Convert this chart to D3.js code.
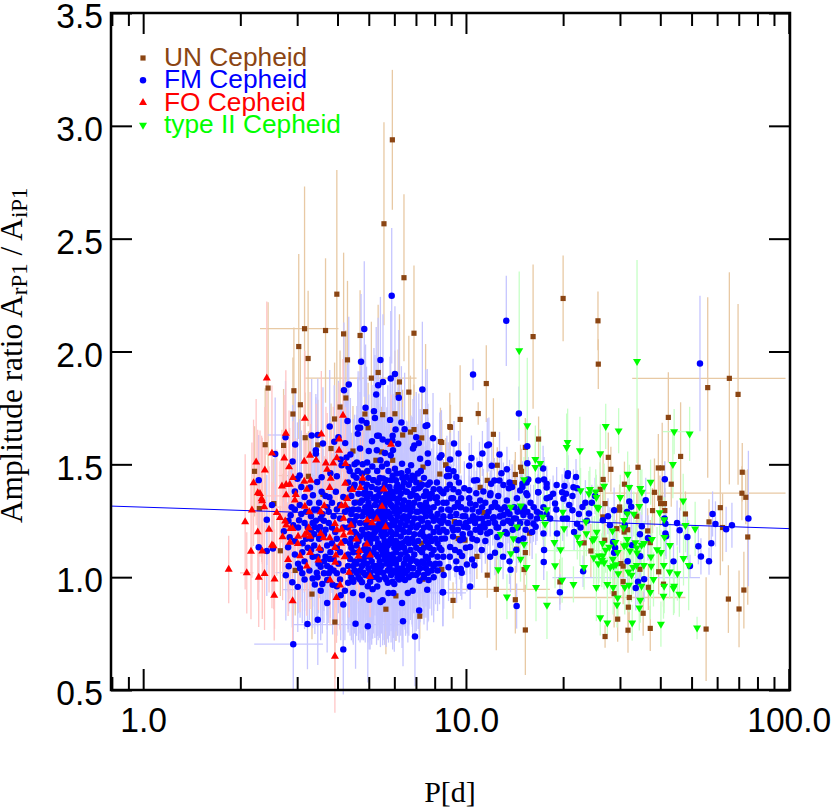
<!DOCTYPE html>
<html>
<head>
<meta charset="utf-8">
<script src="https://cdn.jsdelivr.net/npm/d3@7"></script>
<style>
  body { margin: 0; background: #fff; }
  .axis path, .axis line { stroke: #000; stroke-width: 2px; }
  .axis text { font-family: "Liberation Sans", sans-serif; font-size: 35px; fill: #000; }
</style>
</head>
<body>
<div class="canvas"></div>
<script>
const width = 831;
const height = 808;

const xDomain = [0.795, 100.9];
const yDomain = [0.5, 3.5];
const xMajorTicks = [1, 10, 100];
const xMinorTicks = [0.8, 0.9, 2, 3, 4, 5, 6, 7, 8, 9, 20, 30, 40, 50, 60, 70, 80, 90];
const xTickLabels = ["1.0", "10.0", "100.0"];
const yTicks = [0.5, 1.0, 1.5, 2.0, 2.5, 3.0, 3.5];
const yTickLabels = ["0.5", "1.0", "1.5", "2.0", "2.5", "3.0", "3.5"];

// fitted line, period then ratio
const fitPeriods = [0.795, 100.9];
const fitRatios = [1.315, 1.215];

// every row is [log10 P, amplitude ratio, ratio error].
// the crowded middle of the FM cloud cannot be separated so those rows are estimates.
const unRows = [
  [.772,2.938,.31],[.746,2.566,.45],[.600,2.254,.55],[.808,2.327,.37],[1.301,2.235,.19],[1.409,2.136,.13],[1.410,1.944,.11],[1.208,2.066,.32],
  [.500,2.101,.63],[.565,2.093,.32],[.621,2.078,.36],[.672,2.071,.2],[.839,2.081,.3],[.482,2.022,.41],[.511,1.969,.3],[.633,1.963,.35],
  [.728,1.907,.3],[.707,1.882,.25],[.794,1.865,.3],[.823,1.820,.25],[.790,1.809,.2],[.387,1.838,.38],[.467,1.826,.28],[.628,1.794,.3],
  [.487,1.764,.25],[.610,1.754,.25],[.464,1.723,.25],[.687,1.723,.3],[.742,1.720,.25],[.780,1.724,.28],[.593,1.701,.25],[.875,1.733,.3],
  [.950,1.667,.15],[.697,1.662,.2],[.839,1.654,.2],[.828,1.643,.25],[.804,1.630,.2],[.502,1.618,.2],[.378,1.587,.25],[.435,1.584,.25],
  [.541,1.586,.2],[.863,1.617,.2],[.921,1.601,.15],[.345,1.469,.2],[.582,1.570,.2],[.650,1.559,.2],[.738,1.555,.2],[.721,1.518,.2],
  [.773,1.518,.2],[.867,1.488,.15],[.938,1.497,.12],[.692,1.465,.2],[.512,1.447,.2],[.919,1.457,.12],[.857,1.418,.15],[1.063,1.858,.17],
  [1.038,1.725,.05],[.982,1.699,.24],[.952,1.664,.1],[1.085,1.633,.16],[1.225,1.612,.1],[1.184,1.575,.13],[1.097,1.496,.08],[1.169,1.487,.1],
  [1.153,1.455,.1],[1.172,1.469,.1],[1.150,1.419,.1],[1.066,1.429,.1],[1.044,1.398,.1],[.937,1.497,.1],[.925,1.597,.1],[1.441,1.531,.11],
  [1.449,1.478,.1],[1.425,1.433,.12],[1.416,1.389,.12],[1.491,1.412,.1],[1.533,1.487,.26],[1.596,1.484,.15],[1.608,1.484,.2],[1.636,1.412,.1],
  [1.584,1.376,.15],[1.627,1.708,.2],[1.665,1.535,.24],[1.749,1.840,.4],[1.816,1.881,.47],[1.843,1.81,.4],[1.856,1.465,.13],[1.855,1.372,.12],
  [1.867,1.354,.12],[1.601,1.35,.1],[1.615,1.326,.1],[1.603,1.326,.1],[1.788,1.308,.3],[1.680,1.28,.1],[1.753,1.245,.1],[1.795,1.22,.15],
  [1.873,1.178,.3],[1.616,1.295,.1],[1.578,1.295,.1],[1.529,1.27,.1],[1.476,1.311,.1],[1.476,1.297,.1],[1.431,1.326,.1],[1.424,1.267,.1],
  [1.563,1.205,.1],[1.571,1.153,.1],[1.467,1.215,.1],[1.49,1.2,.1],[1.501,1.21,.1],[1.43,1.164,.1],[1.387,1.116,.12],[1.366,1.152,.1],
  [1.539,1.035,.1],[1.597,1.024,.1],[1.48,1.06,.1],[1.487,1.049,.1],[1.487,.98,.1],[1.565,.955,.1],[1.612,.969,.1],[1.291,.979,.1],
  [1.18,1.034,.1],[1.184,1.109,.1],[1.157,1.124,.1],[1.197,1.195,.1],[1.066,1.009,.1],[1.034,1.092,.1],[.997,1.164,.1],[.976,1.171,.1],
  [.964,1.246,.1],[1.055,1.286,.1],[.925,1.034,.1],[1.094,.946,.27],[.96,.897,.08],[1.153,.9,.15],[1.184,.766,.2],[1.431,.737,.05],
  [1.47,.814,.1],[1.502,.765,.1],[1.571,.773,.1],[1.549,.84,.1],[1.503,.867,.12],[1.506,.91,.1],[1.459,.927,.15],[1.744,.77,.23],
  [1.813,.903,.15],[1.846,.859,.17],[1.861,.943,.17],[.36,1.304,.2],[.425,1.117,.2],[.471,1.03,.2],[.523,.925,.2],[.594,.801,.25],
  [.752,.858,.2],[.783,.917,.2],[.857,.827,.1],[.924,1.033,.1],[.677,1.021,.15],[.866,.991,.1],[.405,1.326,.2],[.557,1.367,.2],
  [.665,1.333,.2],[.696,1.363,.2],[.847,1.354,.15],[.872,1.319,.15],[.862,1.15,.15]
];
const unPeriodBars = [[.362,.605,2.101],[.502,.847,1.882],[1.515,1.99,1.881],[1.42,1.99,1.372],[.945,1.26,.946],[1.22,1.68,.91],[.42,.56,1.45]];

const fmRows = [
  // upper fringe
  [.77,2.247,.3],[.685,2.1,.3],[.735,1.962,.28],[.675,1.955,.3],[.78,1.9,.3],[.767,1.88,.3],[.743,1.865,.3],[.728,1.85,.3],[.637,1.854,.3],[.622,1.828,.3],
  [.722,1.809,.3],[.792,1.795,.3],[.865,1.832,.3],[.689,1.751,.28],[.715,1.735,.28],[.718,1.705,.28],[.765,1.697,.28],[.758,1.6,.25],[.8,1.685,.25],[.633,1.692,.25],
  [.677,1.694,.28],[.692,1.683,.25],[.578,1.668,.25],[.666,1.662,.25],[.672,1.662,.25],[.665,1.635,.25],[.782,1.654,.25],[.81,1.656,.25],[.88,1.673,.25],[.875,1.67,.25],
  [.725,1.627,.25],[.73,1.627,.25],[.742,1.61,.25],[.773,1.627,.25],[.772,1.606,.25],[.846,1.62,.2],[.898,1.616,.2],[.709,1.602,.25],[.592,1.6,.25],[.605,1.62,.25],
  [.626,1.594,.25],[.557,1.592,.25],[.541,1.63,.25],[.522,1.628,.25],[.441,1.62,.25],[.471,1.588,.25],[.535,1.562,.25],[.535,1.547,.25],[.409,1.546,.25],[.463,1.513,.25],
  [.642,1.544,.25],[.63,1.53,.25],[.612,1.521,.25],[.672,1.57,.25],[.699,1.559,.25],[.724,1.562,.25],[.749,1.55,.25],[.767,1.54,.25],[.79,1.591,.25],[.774,1.563,.25],
  [.836,1.57,.22],[.854,1.594,.22],[.84,1.583,.22],[.882,1.548,.22],[.858,1.525,.22],[.924,1.54,.2],[.919,1.53,.2],[.735,1.518,.25],[.755,1.503,.25],[.802,1.503,.25],
  [.83,1.496,.22],[.882,1.506,.2],[.662,1.508,.25],[.694,1.508,.25],[.636,1.488,.25],[.615,1.496,.25],[.6,1.447,.25],[.58,1.46,.25],[.652,1.451,.25],[.678,1.459,.25],
  [.714,1.43,.25],[.743,1.437,.25],[.785,1.459,.25],[.816,1.444,.25],[.851,1.459,.22],[.888,1.42,.2],[.91,1.42,.2],[.941,1.447,.18],[.485,1.451,.25],[.478,1.436,.25],
  [.539,1.422,.25],[.553,1.443,.25],[.517,1.397,.25],[.49,1.4,.25],[.526,1.363,.25],[.5,1.355,.25],[.553,1.378,.25],[.577,1.354,.25],[.597,1.378,.25],[.62,1.355,.25],
  [.652,1.398,.25],[.693,1.37,.25],[.718,1.354,.25],[.76,1.363,.25],[.785,1.399,.25],[.817,1.378,.25],[.853,1.394,.22],[.878,1.363,.22],[.91,1.354,.2],[.358,1.43,.2],
  [.399,1.32,.2],
  [.64,1.47,.22],[.655,1.5,.22],[.665,1.47,.22],[.68,1.5,.22],[.695,1.47,.22],[.71,1.49,.22],[.725,1.47,.22],[.74,1.49,.22],[.76,1.47,.22],[.78,1.48,.22],
  [.8,1.46,.22],[.82,1.47,.22],[.84,1.44,.22],[.86,1.47,.22],[.87,1.44,.22],
  // left side and lower fringe
  [.462,.977,.2],[.479,.957,.2],[.442,1.008,.2],[.451,1.048,.2],[.436,1.203,.2],[.454,1.177,.2],[.449,1.133,.2],[.383,1.254,.2],[.358,1.133,.2],[.383,1.116,.2],
  [.402,1.127,.2],[.457,1.274,.2],[.46,1.31,.2],[.483,1.252,.2],[.465,1.23,.2],[.494,1.15,.22],[.493,1.11,.22],[.486,1.04,.22],[.493,1.017,.22],[.525,.994,.22],
  [.532,.968,.22],[.57,.987,.22],[.538,1.02,.22],[.56,1.017,.22],[.575,1.017,.22],[.6,1.017,.22],[.525,1.09,.22],[.543,1.06,.22],[.578,1.08,.22],[.55,1.046,.22],
  [.532,1.222,.22],[.548,1.222,.22],[.505,1.17,.22],[.52,1.17,.22],[.57,.886,.22],[.62,.879,.2],[.509,.792,.2],[.541,.811,.2],[.658,.794,.2],[.696,.783,.25],
  [.805,.805,.2],[.842,.737,.22],[.465,.703,.2],[.62,.68,.2],[.678,.92,.2],[.612,.92,.2],[.735,.89,.2],[.742,.898,.2],[.802,.886,.2],[.855,.852,.18],
  [.835,.94,.2],[.88,.944,.18],[.928,.933,.15],[.775,.93,.2],[.711,.947,.22],[.696,.96,.25],[.725,.959,.22],[.587,.966,.22],[.635,.975,.22],[.651,.987,.22],
  [.678,.978,.25],[.731,.99,.25],[.758,.975,.25],[.788,1.0,.25],[.811,.987,.22],[.833,1.01,.22],[.856,.984,.2],[.884,.987,.18],[.837,1.04,.2],[.87,1.0,.18],
  [.47,1.3,.2],[.485,1.32,.2],[.505,1.29,.22],[.52,1.27,.22],[.53,1.3,.22],[.555,1.28,.22],[.57,1.31,.22],[.51,1.22,.22],[.56,1.19,.22],[.575,1.24,.22],
  [.53,1.14,.22],[.55,1.12,.22],[.585,1.15,.22],[.58,1.11,.22],[.595,1.2,.22],[.61,1.26,.22],[.605,1.06,.22],[.62,1.03,.22],[.61,1.11,.22],[.625,1.16,.22],
  [.47,1.38,.22],[.49,1.28,.22],[.5,1.24,.22],[.515,1.33,.22],[.52,1.21,.22],[.535,1.25,.22],[.545,1.33,.22],[.56,1.25,.22],[.565,1.36,.22],[.575,1.29,.22],
  [.585,1.33,.22],[.59,1.27,.22],[.6,1.3,.22],[.61,1.32,.22],[.62,1.22,.22],[.625,1.29,.22],[.6,1.17,.22],[.59,1.08,.22],[.57,1.14,.22],[.565,1.09,.22],
  [.545,1.17,.22],[.53,1.19,.22],[.51,1.13,.22],[.5,1.07,.22],[.515,1.03,.22],[.54,1.0,.22],[.555,.97,.22],[.59,1.03,.22],[.57,1.05,.22],[.61,.99,.22],[.625,.94,.22],
  [.54,1.3,.22],[.525,1.24,.22],[.55,1.26,.22],[.545,1.21,.22],[.585,1.22,.22],[.6,1.13,.22],[.565,1.21,.22],[.52,1.12,.22],[.54,1.09,.22],[.56,1.07,.22],
  [.58,1.04,.22],[.47,1.16,.22],[.48,1.22,.22],[.45,1.25,.22],[.47,1.1,.22],[.48,1.06,.22],[.5,.99,.22],[.55,.94,.22],[.6,.96,.22],[.65,.93,.22],[.7,.9,.22],[.76,.93,.22],[.82,.93,.22],
  // crowded core, by columns of period
  [.635,1.42,.28],[.635,1.3,.28],[.635,1.22,.28],[.635,1.1,.28],[.635,1.05,.28],
  [.641,1.39,.28],[.641,1.25,.28],[.641,1.15,.28],[.641,1.08,.28],[.641,1.02,.28],
  [.645,1.36,.28],[.645,1.28,.28],[.645,1.17,.28],[.645,1.13,.28],[.645,1.0,.28],
  [.651,1.3,.28],[.651,1.23,.28],[.651,1.11,.28],[.651,1.05,.28],[.651,.98,.28],
  [.655,1.41,.28],[.655,1.33,.28],[.655,1.25,.28],[.655,1.2,.28],[.655,1.07,.28],[.655,1.03,.28],
  [.661,1.44,.28],[.661,1.27,.28],[.661,1.19,.28],[.661,1.14,.28],[.661,1.06,.28],[.661,1.02,.28],
  [.667,1.37,.28],[.667,1.3,.28],[.667,1.16,.28],[.667,1.11,.28],[.667,1.0,.28],
  [.672,1.33,.28],[.672,1.24,.28],[.672,1.18,.28],[.672,1.08,.28],[.672,1.03,.28],[.672,.99,.28],
  [.678,1.42,.28],[.678,1.34,.28],[.678,1.27,.28],[.678,1.21,.28],[.678,1.05,.28],
  [.683,1.37,.3],[.683,1.29,.3],[.683,1.19,.3],[.683,1.12,.3],[.683,1.07,.3],[.683,1.02,.3],
  [.688,1.39,.3],[.688,1.31,.3],[.688,1.24,.3],[.688,1.14,.3],[.688,1.09,.3],[.688,1.01,.3],
  [.693,1.41,.3],[.693,1.35,.3],[.693,1.29,.3],[.693,1.22,.3],[.693,1.17,.3],[.693,1.11,.3],[.693,1.06,.3],
  [.698,1.44,.3],[.698,1.33,.3],[.698,1.27,.3],[.698,1.19,.3],[.698,1.12,.3],[.698,1.04,.3],
  [.703,1.37,.3],[.703,1.31,.3],[.703,1.24,.3],[.703,1.15,.3],[.703,1.09,.3],[.703,1.02,.3],[.703,.98,.3],
  [.708,1.4,.3],[.708,1.29,.3],[.708,1.22,.3],[.708,1.17,.3],[.708,1.07,.3],[.708,1.0,.3],
  [.713,1.43,.3],[.713,1.35,.3],[.713,1.27,.3],[.713,1.19,.3],[.713,1.11,.3],[.713,1.05,.3],
  [.718,1.32,.3],[.718,1.26,.3],[.718,1.2,.3],[.718,1.13,.3],[.718,1.03,.3],
  [.723,1.39,.3],[.723,1.34,.3],[.723,1.28,.3],[.723,1.22,.3],[.723,1.17,.3],[.723,1.1,.3],[.723,1.05,.3],[.723,1.0,.3],
  [.728,1.42,.3],[.728,1.36,.3],[.728,1.29,.3],[.728,1.23,.3],[.728,1.15,.3],[.728,1.09,.3],[.728,1.02,.3],
  [.733,1.44,.3],[.733,1.38,.3],[.733,1.31,.3],[.733,1.25,.3],[.733,1.21,.3],[.733,1.13,.3],[.733,1.07,.3],[.733,1.03,.3],
  [.738,1.39,.3],[.738,1.33,.3],[.738,1.27,.3],[.738,1.19,.3],[.738,1.12,.3],[.738,1.05,.3],
  [.743,1.35,.3],[.743,1.29,.3],[.743,1.23,.3],[.743,1.18,.3],[.743,1.14,.3],[.743,1.1,.3],[.743,1.02,.3],
  [.748,1.41,.3],[.748,1.31,.3],[.748,1.25,.3],[.748,1.21,.3],[.748,1.16,.3],[.748,1.08,.3],[.748,1.0,.3],
  [.753,1.43,.3],[.753,1.37,.3],[.753,1.33,.3],[.753,1.27,.3],[.753,1.19,.3],[.753,1.12,.3],[.753,1.06,.3],[.753,.99,.3],
  [.758,1.35,.3],[.758,1.29,.3],[.758,1.23,.3],[.758,1.14,.3],[.758,1.1,.3],[.758,1.03,.3],
  [.763,1.4,.3],[.763,1.34,.3],[.763,1.28,.3],[.763,1.22,.3],[.763,1.16,.3],[.763,1.08,.3],[.763,1.04,.3],
  [.768,1.43,.3],[.768,1.38,.3],[.768,1.32,.3],[.768,1.26,.3],[.768,1.2,.3],[.768,1.17,.3],[.768,1.06,.3],[.768,1.01,.3],
  [.773,1.45,.3],[.773,1.36,.3],[.773,1.31,.3],[.773,1.24,.3],[.773,1.19,.3],[.773,1.15,.3],[.773,1.1,.3],[.773,1.03,.3],[.773,.98,.3],
  [.778,1.35,.3],[.778,1.29,.3],[.778,1.23,.3],[.778,1.13,.3],[.778,1.08,.3],[.778,.97,.3],
  [.783,1.43,.3],[.783,1.38,.3],[.783,1.31,.3],[.783,1.25,.3],[.783,1.19,.3],[.783,1.16,.3],[.783,1.11,.3],[.783,1.06,.3],[.783,1.02,.3],
  [.788,1.41,.3],[.788,1.33,.3],[.788,1.27,.3],[.788,1.21,.3],[.788,1.15,.3],[.788,1.04,.3],
  [.793,1.39,.28],[.793,1.35,.28],[.793,1.29,.28],[.793,1.22,.28],[.793,1.13,.28],[.793,1.08,.28],[.793,.99,.28],
  [.798,1.37,.28],[.798,1.3,.28],[.798,1.24,.28],[.798,1.18,.28],[.798,1.1,.28],[.798,1.02,.28],
  [.803,1.44,.28],[.803,1.4,.28],[.803,1.32,.28],[.803,1.26,.28],[.803,1.21,.28],[.803,1.15,.28],[.803,1.04,.28],[.803,1.0,.28],
  [.808,1.42,.28],[.808,1.34,.28],[.808,1.27,.28],[.808,1.2,.28],[.808,1.13,.28],[.808,1.06,.28],
  [.813,1.38,.28],[.813,1.3,.28],[.813,1.23,.28],[.813,1.16,.28],[.813,1.11,.28],[.813,1.08,.28],[.813,1.02,.28],
  [.818,1.31,.28],[.818,1.25,.28],[.818,1.17,.28],[.818,1.09,.28],[.818,1.03,.28],
  [.823,1.41,.26],[.823,1.33,.26],[.823,1.27,.26],[.823,1.2,.26],[.823,1.15,.26],[.823,1.05,.26],[.823,1.0,.26],
  [.828,1.43,.26],[.828,1.36,.26],[.828,1.29,.26],[.828,1.22,.26],[.828,1.12,.26],[.828,1.07,.26],
  [.834,1.45,.26],[.834,1.37,.26],[.834,1.31,.26],[.834,1.24,.26],[.834,1.17,.26],[.834,1.08,.26],[.834,1.04,.26],
  [.84,1.39,.26],[.84,1.33,.26],[.84,1.26,.26],[.84,1.19,.26],[.84,1.15,.26],[.84,1.1,.26],
  [.846,1.42,.25],[.846,1.36,.25],[.846,1.29,.25],[.846,1.22,.25],[.846,1.13,.25],[.846,1.07,.25],[.846,1.01,.25],
  [.852,1.35,.25],[.852,1.29,.25],[.852,1.23,.25],[.852,1.16,.25],[.852,1.06,.25],[.852,1.02,.25],
  [.858,1.4,.24],[.858,1.32,.24],[.858,1.26,.24],[.858,1.19,.24],[.858,1.12,.24],[.858,1.04,.24],
  [.864,1.41,.24],[.864,1.31,.24],[.864,1.25,.24],[.864,1.2,.24],[.864,1.11,.24],[.864,1.07,.24],
  [.87,1.36,.22],[.87,1.29,.22],[.87,1.22,.22],[.87,1.18,.22],[.87,1.13,.22],[.87,1.06,.22],[.87,1.01,.22],
  [.876,1.38,.22],[.876,1.33,.22],[.876,1.27,.22],[.876,1.16,.22],[.876,1.09,.22],[.876,1.04,.22],
  [.882,1.41,.22],[.882,1.31,.22],[.882,1.24,.22],[.882,1.15,.22],[.882,1.08,.22],[.882,1.02,.22],
  [.888,1.35,.2],[.888,1.29,.2],[.888,1.22,.2],[.888,1.18,.2],[.888,1.13,.2],[.888,1.06,.2],
  [.894,1.37,.2],[.894,1.27,.2],[.894,1.16,.2],[.894,1.1,.2],[.894,1.03,.2],
  [.9,1.39,.2],[.9,1.31,.2],[.9,1.25,.2],[.9,1.2,.2],[.9,1.12,.2],[.9,1.05,.2],[.9,1.0,.2],
  [.906,1.35,.18],[.906,1.26,.18],[.906,1.17,.18],[.906,1.06,.18],
  [.912,1.33,.18],[.912,1.28,.18],[.912,1.22,.18],[.912,1.15,.18],[.912,1.09,.18],[.912,1.03,.18],
  [.918,1.39,.18],[.918,1.25,.18],[.918,1.2,.18],[.918,1.13,.18],[.918,1.06,.18],
  [.924,1.38,.18],[.924,1.3,.18],[.924,1.24,.18],[.924,1.17,.18],[.924,1.12,.18],
  [.93,1.33,.16],[.93,1.27,.16],[.93,1.21,.16],[.93,1.09,.16],
  // right of 8 days
  [1.125,2.136,.2],[1.022,1.898,.07],[1.725,1.947,.3],[1.164,1.725,.12],[1.19,1.58,.12],[.963,1.592,.1],[1.066,1.584,.12],[1.071,1.588,.12],[1.051,1.548,.1],[.977,1.548,.1],
  [1.017,1.528,.1],[.951,1.521,.12],[1.104,1.544,.1],[1.01,1.494,.1],[1.042,1.5,.1],[1.08,1.494,.1],[1.19,1.505,.1],[1.127,1.478,.1],[1.239,1.482,.1],[.945,1.478,.12],
  [.961,1.469,.12],[1.11,1.46,.1],[.948,1.448,.12],[.97,1.444,.12],[1.025,1.428,.1],[1.034,1.43,.1],[.978,1.42,.12],[1.078,1.414,.1],[1.088,1.428,.1],[1.104,1.428,.1],
  [1.135,1.42,.1],[1.193,1.433,.1],[1.224,1.428,.1],[1.242,1.433,.1],[1.316,1.46,.08],[1.315,1.448,.08],[1.341,1.444,.08],[1.281,1.408,.08],[1.305,1.404,.08],[1.25,1.414,.08],
  [1.25,1.397,.08],[1.188,1.42,.1],[1.175,1.414,.1],[1.175,1.4,.1],[1.168,1.384,.1],[1.116,1.408,.1],[1.143,1.4,.1],[1.133,1.394,.1],[.995,1.394,.12],[1.01,1.385,.12],
  [.961,1.39,.12],[.93,1.372,.15],[.977,1.376,.12],[1.032,1.372,.1],[1.054,1.38,.1],[1.076,1.372,.1],[1.333,1.398,.08],[1.224,1.376,.08],[1.187,1.372,.1],[1.26,1.354,.08],
  [1.298,1.376,.08],[1.344,1.394,.08],[1.616,1.434,.08],[1.875,1.26,.3],[1.764,1.28,.1],[1.824,1.23,.1],[1.806,1.212,.1],[1.773,1.236,.1],[1.72,1.137,.08],[1.76,1.15,.08],
  [1.728,1.092,.08],[1.753,1.071,.06],[1.686,1.178,.1],[1.654,1.24,.1],[1.662,1.208,.1],[1.618,1.194,.1],[1.643,1.07,.08],[1.694,1.049,.05],[1.618,1.237,.1],[1.615,1.26,.1],
  [1.557,1.341,.1],[1.506,1.335,.1],[1.512,1.312,.1],[1.499,1.289,.1],[1.459,1.297,.1],[1.44,1.27,.08],[1.424,1.252,.08],[1.446,1.23,.08],[1.545,1.226,.1],[1.492,1.23,.1],
  [1.539,1.19,.1],[1.564,1.174,.1],[1.62,1.181,.1],[1.514,1.142,.1],[1.456,1.156,.1],[1.462,1.13,.1],[1.459,1.108,.1],[1.501,1.071,.1],[1.54,1.093,.1],[1.363,1.026,.07],
  [1.552,.991,.1],[1.533,.98,.1],[1.526,.952,.1],[1.291,.933,.08],[1.157,.872,.1],[1.138,1.033,.1],[1.115,1.091,.1],[1.135,1.07,.1],[1.075,1.09,.1],[1.09,1.108,.1],
  [1.156,1.12,.1],[1.242,1.12,.08],[1.241,1.067,.08],[1.013,.959,.1],[.929,.933,.15],[.931,1.01,.15],[.946,1.044,.15],[.971,1.036,.15],[.984,1.036,.12],[.987,1.02,.12],
  [1.003,1.056,.12],[1.026,1.053,.1],[1.019,1.078,.1],[.988,1.094,.12],[.966,1.12,.12],[.98,1.11,.12],[1.0,1.13,.12],[1.224,1.376,.08],[1.19,1.363,.1],[1.158,1.35,.1],
  [1.127,1.34,.1],[1.097,1.31,.1],[1.075,1.363,.1],[1.044,1.34,.1],[1.013,1.326,.12],[.982,1.31,.12],[.951,1.297,.15],[.93,1.252,.15],[.961,1.208,.15],[.993,1.223,.12],
  [1.024,1.252,.1],[1.055,1.238,.1],[1.086,1.266,.1],[1.117,1.275,.1],[1.148,1.26,.1],[1.178,1.275,.1],[1.209,1.237,.08],[1.23,1.281,.08],[1.261,1.26,.08],[1.276,1.326,.08],
  [1.302,1.348,.08],[1.33,1.297,.08],[1.361,1.311,.08],[1.381,1.282,.08],[1.344,1.237,.08],[1.313,1.26,.08],[1.282,1.193,.08],[1.24,1.193,.08],[1.216,1.223,.08],[1.178,1.171,.1],
  [1.163,1.164,.1],[1.127,1.193,.1],[1.097,1.178,.1],[1.066,1.193,.1],[1.044,1.223,.1],[1.013,1.193,.12],[1.034,1.164,.1],[.982,1.164,.12],[.951,1.134,.15],[.935,1.171,.15],
  [1.013,1.134,.12],[1.049,1.12,.1],[1.106,1.142,.1],[1.108,1.3,.1],[1.14,1.24,.1],[1.17,1.31,.1],[1.2,1.33,.08],[1.25,1.35,.08],[1.27,1.37,.08],[1.33,1.36,.08],
  [1.31,1.37,.08],[1.4,1.36,.08],[1.39,1.33,.08],[1.375,1.25,.08],[1.355,1.22,.08],[1.335,1.2,.08],[.94,1.33,.15],[.955,1.35,.15],[.97,1.28,.12],[.99,1.27,.12],[.945,1.24,.15],[.96,1.18,.15],
  [.94,1.39,.1],[.95,1.41,.1],[.96,1.35,.1],[.975,1.33,.1],[.985,1.35,.1],[1.0,1.3,.1],[1.01,1.35,.1],[1.02,1.3,.1],[1.03,1.32,.1],[1.04,1.29,.1],
  [1.05,1.31,.1],[1.06,1.33,.1],[1.07,1.29,.1],[1.08,1.31,.1],[1.09,1.33,.1],[1.1,1.36,.1],[1.12,1.31,.1],[1.13,1.29,.1],[1.15,1.31,.1],[1.16,1.29,.1],
  [1.18,1.31,.1],[1.19,1.29,.1],[1.21,1.31,.1],[1.22,1.29,.1],[1.24,1.31,.1],[1.25,1.28,.1],[1.0,1.24,.1],[1.03,1.21,.1],[1.07,1.24,.1],[1.1,1.22,.1],
  [1.13,1.25,.1],[1.16,1.22,.1],[1.19,1.24,.1],[1.22,1.26,.1],[.97,1.24,.1],[.94,1.2,.1],[.99,1.19,.1],[1.02,1.17,.1],[1.06,1.16,.1],[.95,1.09,.1],
  [.97,1.07,.1],[1.28,1.3,.1],[1.3,1.26,.1],[1.32,1.32,.1],[1.35,1.28,.1],[1.37,1.33,.1],
  [.945,1.3,.12],[.952,1.27,.12],[.958,1.22,.12],[.965,1.31,.12],[.975,1.21,.12],[.98,1.24,.12],[.985,1.31,.12],[.992,1.17,.12],[.998,1.27,.12],[1.005,1.22,.12],
  [1.012,1.25,.12],[1.022,1.27,.12],[1.028,1.24,.12],[1.036,1.26,.12],[1.045,1.2,.12],[1.05,1.26,.12],[1.058,1.22,.12],[1.065,1.27,.12],[1.075,1.2,.12],[1.083,1.26,.12],
  [1.09,1.24,.12],[1.095,1.22,.12],[1.105,1.27,.12],[1.115,1.24,.12],[1.122,1.2,.12],[1.135,1.28,.12],[1.145,1.21,.12],[1.155,1.26,.12],[1.168,1.24,.12],[1.175,1.29,.12],
  [1.185,1.21,.12],[1.2,1.27,.12],[1.205,1.2,.12]
];
const fmPeriodBars = [[.344,.557,.703],[.465,.797,.79],[.386,.454,1.63],[1.268,1.725,.998],[.433,.62,.945],[.83,1.0,.93],[.41,.56,1.02]];

const foRows = [
  [.383,1.882,.34],[.501,1.703,.3],[.619,1.717,.25],[.442,1.637,.28],[.552,1.634,.28],[.607,1.611,.25],[.399,1.549,.3],[.35,1.51,.28],[.437,1.527,.28],[.517,1.54,.28],
  [.607,1.562,.25],[.768,1.588,.22],[.499,1.513,.25],[.536,1.518,.25],[.6,1.528,.25],[.566,1.505,.25],[.589,1.505,.25],[.627,1.503,.25],[.377,1.474,.28],[.452,1.488,.25],
  [.57,1.477,.25],[.342,1.418,.28],[.464,1.441,.25],[.581,1.437,.25],[.499,1.424,.25],[.519,1.429,.25],[.68,1.438,.22],[.43,1.403,.25],[.454,1.411,.25],[.443,1.41,.25],
  [.626,1.415,.22],[.578,1.397,.22],[.507,1.389,.25],[.648,1.388,.22],[.673,1.397,.22],[.746,1.39,.2],[.355,1.373,.28],[.362,1.37,.28],[.443,1.364,.25],[.473,1.366,.25],
  [.367,1.347,.28],[.369,1.338,.28],[.375,1.311,.28],[.47,1.341,.25],[.501,1.314,.25],[.515,1.289,.25],[.561,1.316,.22],[.614,1.316,.22],[.626,1.319,.22],[.632,1.348,.22],
  [.74,1.313,.2],[.337,1.297,.3],[.414,1.286,.28],[.316,1.245,.3],[.355,1.2,.3],[.39,1.212,.28],[.424,1.264,.25],[.44,1.248,.25],[.443,1.23,.25],[.456,1.215,.25],
  [.463,1.215,.25],[.55,1.289,.22],[.594,1.237,.22],[.621,1.26,.22],[.644,1.23,.22],[.694,1.252,.22],[.709,1.24,.2],[.724,1.258,.2],[.751,1.223,.2],[.513,1.218,.22],
  [.6,1.209,.22],[.615,1.212,.22],[.55,1.193,.22],[.507,1.196,.25],[.5,1.186,.25],[.517,1.18,.25],[.48,1.181,.25],[.432,1.178,.28],[.455,1.154,.25],[.479,1.148,.25],
  [.559,1.174,.22],[.578,1.174,.22],[.621,1.186,.22],[.642,1.198,.22],[.66,1.168,.22],[.613,1.15,.22],[.693,1.146,.2],[.334,1.114,.3],[.369,1.115,.3],[.399,1.142,.28],
  [.404,1.138,.28],[.594,1.131,.22],[.546,1.127,.22],[.597,1.097,.22],[.517,1.109,.25],[.486,1.094,.25],[.67,1.117,.2],[.624,1.09,.22],[.667,1.093,.2],[.703,1.097,.2],
  [.449,1.078,.25],[.543,1.075,.22],[.595,1.065,.2],[.507,1.049,.22],[.638,1.021,.2],[.703,1.002,.18],[.265,1.034,.15],[.321,1.019,.18],[.376,1.016,.25],[.358,.999,.22],
  [.407,.991,.22],[.579,.987,.2],[.61,.965,.2],[.406,.919,.2],[.463,.895,.2],[.599,.909,.2],[.594,.649,.25]
];
const foPeriodBars = [[.3,.342,1.019],[.35,.47,1.36],[.38,.5,1.31]];

const type2Rows = [
  [1.165,2.004,.35],[1.53,1.956,.45],[1.19,1.672,.3],[1.433,1.668,.1],[1.473,1.649,.1],[1.645,1.645,.1],[1.693,1.635,.12],[1.315,1.597,.15],[1.312,1.575,.15],[1.353,1.561,.15],
  [1.416,1.548,.13],[1.215,1.522,.15],[1.23,1.504,.15],[1.215,1.487,.1],[1.641,1.5,.15],[1.501,1.457,.1],[1.18,1.433,.1],[1.572,1.421,.1],[1.506,1.398,.1],[1.54,1.394,.1],
  [1.545,1.377,.1],[1.428,1.404,.1],[1.384,1.389,.1],[1.402,1.378,.1],[1.355,1.384,.1],[1.381,1.37,.1],[1.404,1.354,.1],[1.478,1.354,.1],[1.673,1.338,.12],[1.139,1.311,.1],
  [1.17,1.316,.1],[1.25,1.3,.1],[1.3,1.289,.1],[1.238,1.266,.1],[1.245,1.235,.1],[1.158,1.223,.1],[1.108,1.19,.1],[1.304,1.215,.1],[1.372,1.245,.1],[1.406,1.311,.1],
  [1.41,1.305,.1],[1.537,1.314,.1],[1.6,1.286,.1],[1.5,1.281,.1],[1.52,1.28,.1],[1.49,1.252,.1],[1.614,1.255,.1],[1.68,1.23,.12],[1.71,1.214,.12],[1.488,1.22,.1],
  [1.454,1.205,.1],[1.405,1.2,.1],[1.373,1.193,.1],[1.345,1.178,.1],[1.147,1.171,.1],[1.18,1.146,.1],[1.274,1.154,.1],[1.293,1.122,.1],[1.353,1.15,.1],[1.398,1.171,.1],
  [1.392,1.164,.1],[1.423,1.15,.1],[1.444,1.133,.1],[1.433,1.12,.1],[1.463,1.154,.1],[1.5,1.168,.1],[1.525,1.153,.1],[1.552,1.15,.1],[1.576,1.168,.1],[1.615,1.177,.1],
  [1.632,1.141,.1],[1.497,1.142,.1],[1.508,1.117,.1],[1.529,1.13,.1],[1.544,1.142,.1],[1.592,1.122,.1],[1.604,1.11,.1],[1.47,1.11,.1],[1.49,1.139,.1],[1.53,1.108,.1],
  [1.573,1.09,.1],[1.139,1.105,.1],[1.169,1.08,.1],[1.396,1.087,.12],[1.412,1.095,.12],[1.424,1.095,.12],[1.421,1.075,.12],[1.455,1.08,.12],[1.41,1.06,.12],[1.428,1.065,.12],
  [1.465,1.056,.12],[1.447,1.044,.12],[1.457,1.05,.12],[1.518,1.044,.12],[1.529,1.053,.12],[1.551,1.053,.12],[1.574,1.049,.12],[1.613,1.053,.12],[1.674,1.083,.12],[1.69,1.053,.2],
  [1.188,1.044,.1],[1.1,1.034,.1],[1.276,1.051,.1],[1.366,1.044,.1],[1.472,1.016,.12],[1.503,1.024,.12],[1.513,1.009,.12],[1.631,1.024,.12],[1.655,1.016,.12],[1.581,.99,.12],
  [1.298,.987,.1],[1.333,.968,.08],[1.217,.955,.15],[1.404,.955,.15],[1.438,.968,.12],[1.456,.955,.12],[1.492,.955,.12],[1.505,.965,.12],[1.544,.96,.12],[1.571,.933,.12],
  [1.614,.96,.12],[1.645,.96,.12],[1.643,.952,.12],[1.661,.925,.1],[1.612,.916,.1],[1.127,.913,.1],[1.47,.908,.1],[1.54,.898,.1],[1.251,.876,.15],[1.468,.877,.1],
  [1.537,.864,.1],[1.416,.821,.08],[1.438,.798,.05],[1.515,.798,.08],[1.604,.792,.1],[1.716,.775,.05]
];
const type2PeriodBars = [[1.25,1.54,1.118],[1.61,1.69,1.645]];

const legendNames = ["UN Cepheid", "FM Cepheid", "FO Cepheid", "type II Cepheid"];
const legendColors = ["#8b4513", "#0000ff", "#ff0000", "#00ff00"];
const barColors = ["#e8c9a4", "#c6c6ff", "#ffc6c6", "#c6ffc6"];

const svg = d3.select(".canvas")
  .append("svg")
  .attr("width", width)
  .attr("height", height)
  .style("display", "block");

let [ml, mr, mt, mb] = [111, 790, 13, 690];

const x = d3.scaleLog().domain(xDomain).range([ml, mr]);
const y = d3.scaleLinear().domain(yDomain).range([mb, mt]);

const squareMark = d3.symbol().type(d3.symbolSquare).size(27)();
const circleMark = d3.symbol().type(d3.symbolCircle).size(33)();
const triangleMark = d3.symbol().type(d3.symbolTriangle).size(28)();

function drawBars(rows, periodBars, color) {
  const g = svg.append("g").attr("stroke", color).attr("stroke-width", 1.3);
  g.selectAll(".ratio-bar")
    .data(rows)
    .enter()
    .append("line")
    .attr("class", "ratio-bar")
    .attr("x1", d => x(10 ** d[0]))
    .attr("x2", d => x(10 ** d[0]))
    .attr("y1", d => y(d[1] - d[2]))
    .attr("y2", d => y(d[1] + d[2]));
  g.selectAll(".period-bar")
    .data(periodBars)
    .enter()
    .append("line")
    .attr("class", "period-bar")
    .attr("x1", d => x(10 ** d[0]))
    .attr("x2", d => x(10 ** d[1]))
    .attr("y1", d => y(d[2]))
    .attr("y2", d => y(d[2]));
}

function drawMarks(rows, color, mark, flip) {
  svg.append("g")
    .attr("fill", color)
    .selectAll("path")
    .data(rows)
    .enter()
    .append("path")
    .attr("d", mark)
    .attr("transform", d => `translate(${x(10 ** d[0])},${y(d[1])})` + (flip ? " rotate(180)" : ""));
}

drawBars(unRows, unPeriodBars, barColors[0]);
drawBars(fmRows, fmPeriodBars, barColors[1]);
drawBars(foRows, foPeriodBars, barColors[2]);
drawBars(type2Rows, type2PeriodBars, barColors[3]);

drawMarks(unRows, legendColors[0], squareMark, false);
drawMarks(fmRows, legendColors[1], circleMark, false);

svg.append("line")
  .attr("x1", x(fitPeriods[0]))
  .attr("x2", x(fitPeriods[1]))
  .attr("y1", y(fitRatios[0]))
  .attr("y2", y(fitRatios[1]))
  .attr("stroke", "#0000ff")
  .attr("stroke-width", 1);

drawMarks(foRows, legendColors[2], triangleMark, false);
drawMarks(type2Rows, legendColors[3], triangleMark, true);

// axes, all four sides get inward ticks
function addAxis(axis, dx, dy) {
  return svg.append("g")
    .attr("class", "axis")
    .attr("transform", `translate(${dx},${dy})`)
    .call(axis)
    .call(g => g.select(".domain").remove());
}

// the reference digits are a little narrower than the font
function narrow(sel) {
  sel.attr("lengthAdjust", "spacingAndGlyphs")
    .attr("textLength", function () { return this.getComputedTextLength() * 0.96; });
}

addAxis(d3.axisBottom(x).tickValues(xMinorTicks).tickSize(-13).tickFormat(""), 0, mb);
addAxis(d3.axisTop(x).tickValues(xMinorTicks).tickSize(-13).tickFormat(""), 0, mt);
addAxis(d3.axisBottom(x).tickValues(xMajorTicks).tickSize(-21).tickPadding(17).tickFormat((d, i) => xTickLabels[i]), 0, mb)
  .selectAll("text").call(narrow);
addAxis(d3.axisTop(x).tickValues(xMajorTicks).tickSize(-21).tickFormat(""), 0, mt);
addAxis(d3.axisLeft(y).tickValues(yTicks).tickSize(-21).tickPadding(8).tickFormat((d, i) => yTickLabels[i]), ml, 0)
  .selectAll("text").attr("dy", "0.42em").call(narrow);
addAxis(d3.axisRight(y).tickValues(yTicks).tickSize(-21).tickFormat(""), mr, 0);

svg.append("rect")
  .attr("x", ml)
  .attr("y", mt)
  .attr("width", mr - ml)
  .attr("height", mb - mt)
  .attr("fill", "none")
  .attr("stroke", "#000")
  .attr("stroke-width", 2.5);

// legend
const legendY = d3.scalePoint().domain(legendNames).range([58, 125]);
const legendMarks = [squareMark, circleMark, triangleMark, triangleMark];
const legend = svg.append("g").selectAll("g").data(legendNames).enter().append("g");
legend.append("path")
  .attr("d", (d, i) => legendMarks[i])
  .attr("fill", (d, i) => legendColors[i])
  .attr("transform", (d, i) => `translate(143,${legendY(d)})` + (i == 3 ? " rotate(180)" : ""));
legend.append("text")
  .attr("x", 164)
  .attr("y", d => legendY(d) + 8)
  .attr("fill", (d, i) => legendColors[i])
  .style("font-family", '"Liberation Sans", sans-serif')
  .style("font-size", "26.3px")
  .text(d => d);

// axis titles
svg.append("text")
  .attr("x", 450)
  .attr("y", 802)
  .attr("text-anchor", "middle")
  .style("font-family", '"Liberation Serif", serif')
  .style("font-size", "30px")
  .text("P[d]");

const yTitle = svg.append("text")
  .attr("transform", "translate(22,523) rotate(-90)")
  .style("font-family", '"Liberation Serif", serif')
  .style("font-size", "31.3px");
yTitle.append("tspan").text("Amplitude ratio A");
yTitle.append("tspan").attr("dy", 5).style("font-size", "23px").text("rP1");
yTitle.append("tspan").attr("dy", -5).text(" / A");
yTitle.append("tspan").attr("dy", 5).style("font-size", "23px").text("iP1");
</script>
</body>
</html>
